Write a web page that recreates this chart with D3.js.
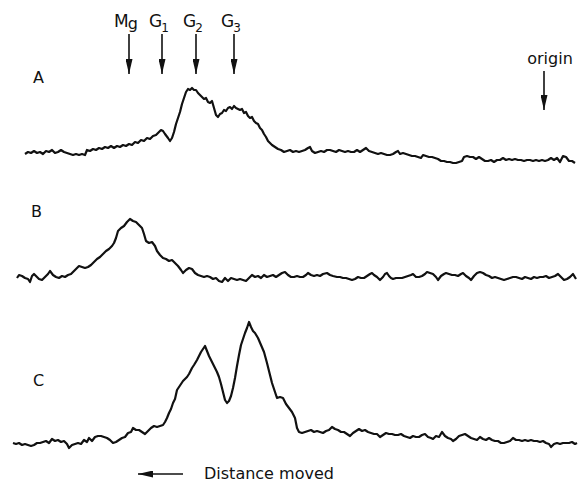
<!DOCTYPE html>
<html>
<head>
<meta charset="utf-8">
<script src="https://d3js.org/d3.v7.min.js"></script>
<style>
  body { margin: 0; background: #fff; }
  text { font-family: "DejaVu Sans", sans-serif; fill: #111; }
</style>
</head>
<body>
<div id="chart"></div>
<script>
// densitometer scans A, B, C - position along the gel vs. density

var w = 585, h = 483;

// band markers above the top scan
var markerNames = ["M", "G", "G", "G"];
var markerSubs = ["g", "1", "2", "3"];
var markerPos = [129, 162, 196, 234];
var originPos = 544;

var traceLabels = ["A", "B", "C"];

// scan A  [position, density]
var scanA = [
  [25,11],[28,13],[31,12],[34,14],[37,12],[40,13],[43,11],[46,14],[49,13],[52,15],[55,12],[58,13],
  [61,15],[64,13],[67,12],[70,11],[73,10],[76,11],[79,10],[82,11],[85,10],[87,15],[90,14],[93,16],
  [96,15],[99,17],[102,16],[105,18],[108,17],[111,19],[114,17],[117,19],[120,18],[123,20],[126,19],
  [129,21],[132,20],[135,23],[138,22],[141,25],[144,24],[147,27],[150,26],[153,29],[156,30],[159,33],
  [161,35],[163,34],[165,31],[168,27],[170,24],[172,27],[174,33],[176,41],[178,47],[180,53],[182,61],
  [184,67],[186,73],[188,76],[190,75],[192,77],[194,75],[196,75],[198,72],[200,70],[202,68],[204,66],
  [206,67],[208,63],[210,62],[212,64],[214,57],[216,50],[218,48],[220,51],[222,52],[224,55],[226,54],
  [228,57],[230,58],[232,56],[234,59],[236,57],[238,56],[240,55],[242,56],[244,52],[246,53],[248,49],
  [250,47],[252,48],[254,44],[256,42],[258,41],[260,37],[262,35],[264,31],[266,28],[268,24],[270,22],
  [272,20],[275,18],[278,16],[281,15],[284,13],[287,14],[290,15],[293,13],[296,14],[299,13],[302,14],
  [305,15],[308,17],[310,18],[312,14],[315,12],[318,13],[321,14],[324,13],[327,15],[330,15],[333,14],
  [336,13],[339,15],[342,14],[345,13],[348,14],[351,13],[354,13],[357,15],[360,13],[363,15],[366,17],
  [369,14],[372,13],[375,12],[378,11],[381,12],[384,11],[387,10],[390,10],[393,11],[396,13],[398,14],
  [400,11],[403,12],[406,11],[409,10],[412,9],[415,9],[418,8],[421,7],[423,10],[426,9],[429,8],[432,8],
  [435,7],[438,6],[441,4],[444,4],[447,3],[450,3],[453,2],[456,2],[459,3],[462,4],[464,8],[467,9],
  [470,8],[473,8],[476,6],[479,8],[482,6],[485,4],[488,4],[491,5],[494,3],[497,5],[500,5],[503,7],
  [506,5],[509,6],[512,5],[515,6],[518,5],[521,5],[524,4],[527,5],[530,5],[533,4],[536,5],[539,4],
  [542,5],[545,4],[548,5],[551,7],[554,5],[557,7],[560,3],[563,9],[566,8],[569,4],[572,4],[575,2]
];

// scan B
var scanB = [
  [17,12],[19,15],[22,14],[25,12],[28,11],[30,8],[32,14],[34,16],[36,14],[39,11],[42,10],[45,13],
  [48,16],[50,19],[53,15],[56,13],[59,12],[62,14],[65,13],[68,15],[71,16],[74,19],[77,22],[79,24],
  [82,23],[85,22],[88,23],[91,25],[94,28],[97,31],[100,33],[103,36],[106,39],[109,41],[112,44],
  [114,47],[116,52],[118,59],[121,62],[124,64],[127,68],[130,71],[133,69],[136,68],[139,65],[142,62],
  [144,56],[146,49],[149,47],[152,48],[155,44],[157,39],[160,35],[163,32],[166,31],[169,29],[172,30],
  [175,27],[178,24],[181,20],[183,17],[186,20],[189,22],[192,21],[195,17],[198,15],[201,14],[204,13],
  [207,14],[210,13],[213,11],[216,12],[219,9],[222,8],[225,12],[228,9],[231,12],[234,11],[237,10],
  [240,11],[243,10],[246,9],[249,12],[252,15],[255,13],[258,14],[261,12],[264,15],[267,13],[270,14],
  [273,15],[276,13],[279,15],[282,17],[285,18],[288,15],[291,13],[294,13],[297,14],[300,13],[303,13],
  [306,15],[308,17],[311,15],[314,14],[317,15],[320,14],[323,16],[327,17],[330,15],[333,14],[337,13],
  [340,13],[343,12],[346,12],[349,11],[352,10],[355,11],[358,13],[361,12],[364,12],[367,14],[370,16],
  [372,17],[374,15],[377,13],[380,10],[383,13],[385,16],[387,17],[389,14],[391,12],[393,11],[396,12],
  [399,12],[402,12],[405,13],[408,14],[411,15],[413,16],[416,13],[419,13],[422,14],[425,16],[427,18],
  [430,17],[433,16],[436,13],[438,10],[441,14],[444,16],[446,17],[449,16],[452,15],[455,15],[458,14],
  [461,16],[463,17],[466,14],[469,12],[471,10],[474,14],[477,17],[480,18],[483,17],[486,15],[489,14],
  [492,12],[495,13],[498,12],[501,11],[504,10],[507,11],[510,12],[513,13],[516,13],[519,12],[522,11],
  [525,13],[528,12],[531,11],[534,13],[537,12],[540,13],[543,13],[546,14],[549,12],[552,13],[555,14],
  [558,16],[561,13],[564,10],[567,11],[570,13],[573,16],[576,11]
];

// scan C
var scanC = [
  [13,7],[16,6],[19,7],[22,5],[25,6],[28,5],[31,4],[34,5],[37,7],[40,7],[43,8],[46,9],[49,7],[52,11],
  [55,9],[58,10],[61,8],[64,9],[67,6],[69,2],[72,5],[75,6],[78,7],[81,6],[84,10],[87,8],[89,12],
  [92,9],[95,13],[98,14],[101,14],[104,13],[107,12],[110,10],[113,7],[116,8],[119,10],[122,12],
  [125,13],[128,17],[131,18],[133,22],[136,20],[139,20],[142,18],[145,16],[148,19],[151,22],[154,24],
  [157,23],[160,24],[163,25],[165,28],[167,32],[169,37],[171,41],[173,47],[175,51],[177,60],[179,63],
  [181,66],[183,69],[185,71],[187,73],[189,76],[192,82],[194,85],[197,90],[199,94],[201,98],[203,101],
  [205,104],[207,99],[209,94],[211,90],[213,86],[215,82],[217,78],[219,73],[221,66],[223,58],[225,50],
  [227,47],[229,49],[231,54],[233,62],[235,72],[237,84],[239,95],[241,105],[243,111],[245,117],
  [247,122],[249,128],[251,123],[253,119],[255,117],[258,112],[261,105],[264,98],[267,87],[270,75],
  [272,67],[275,58],[277,52],[280,53],[283,52],[286,46],[289,42],[292,38],[295,32],[297,22],[299,18],
  [302,17],[305,18],[308,19],[311,20],
  [314,18],[317,19],[320,18],[323,17],[326,19],[329,20],[332,23],[335,21],[338,20],[341,18],[344,18],
  [347,16],[350,14],[353,17],[356,19],[359,21],[362,19],[365,20],[368,18],[371,17],[374,16],[377,16],
  [380,13],[383,15],[386,17],[389,16],[392,16],[395,15],[398,15],[401,16],[404,14],[407,13],[410,12],
  [413,14],[416,13],[419,13],[422,15],[425,16],[428,13],[431,12],[433,11],[436,14],[439,13],[442,18],
  [445,14],[448,12],[451,11],[453,9],[456,11],[459,14],[462,15],[465,16],[468,14],[471,12],[474,11],
  [477,10],[480,13],[483,11],[486,10],[489,12],[492,10],[495,9],[498,9],[501,7],[504,7],[507,8],
  [510,9],[513,12],[516,10],[519,10],[522,9],[525,10],[528,9],[531,10],[534,9],[537,9],[540,8],
  [543,9],[546,7],[549,6],[551,3],[554,6],[557,7],[560,6],[563,7],[566,7],[569,7],[572,8],[575,6],[577,7]
];

var scans = [scanA, scanB, scanC];
// zero-density line of each panel (pixels)
var panelBase = [165, 290, 450];

var svg = d3.select("#chart")
  .append("svg")
  .attr("width", w)
  .attr("height", h)
  .style("background", "#fff");

var x = d3.scaleLinear().domain([0, 585]).range([0, 585]);

function yFor(i) {
  return d3.scaleLinear().domain([0, 100]).range([panelBase[i], panelBase[i] - 100]);
}

// solid arrow head, long and narrow like the plotter ones
var defs = svg.append("defs");
defs.append("marker")
  .attr("id", "head")
  .attr("viewBox", "0 0 15 7")
  .attr("refX", 15).attr("refY", 3.5)
  .attr("markerWidth", 15).attr("markerHeight", 7)
  .attr("markerUnits", "userSpaceOnUse")
  .attr("orient", "auto")
  .append("path")
  .attr("d", "M0,0 L15,3.5 L0,7 Z")
  .attr("fill", "#111");

// the traces
scans.forEach(function (data, i) {
  var y = yFor(i);
  var line = d3.line()
    .x(function (d) { return x(d[0]); })
    .y(function (d) { return y(d[1]); });

  svg.append("path")
    .datum(data)
    .attr("d", line)
    .attr("fill", "none")
    .attr("stroke", "#111")
    .attr("stroke-width", 2.2)
    .attr("stroke-linejoin", "round");

  svg.append("text")
    .attr("x", x([33, 31, 33][i]))
    .attr("y", y([82, 73, 64][i]))
    .attr("font-size", 16)
    .text(traceLabels[i]);
});

// marker arrows (G bands)
markerPos.forEach(function (p, i) {
  var t = svg.append("text")
    .attr("x", x(p) - 3)
    .attr("y", 27)
    .attr("text-anchor", "middle")
    .attr("font-size", 17);
  t.append("tspan").text(markerNames[i]);
  t.append("tspan")
    .attr("font-size", i == 0 ? 16 : 12)
    .attr("dy", i == 0 ? 2 : 5)
    .attr("dx", -1)
    .text(markerSubs[i]);

  svg.append("line")
    .attr("x1", x(p)).attr("x2", x(p))
    .attr("y1", 34).attr("y2", 74)
    .attr("stroke", "#111")
    .attr("stroke-width", 1.6)
    .attr("marker-end", "url(#head)");
});

// origin
svg.append("text")
  .attr("x", x(originPos) + 6)
  .attr("y", 64)
  .attr("text-anchor", "middle")
  .attr("font-size", 16)
  .text("origin");

svg.append("line")
  .attr("x1", x(originPos)).attr("x2", x(originPos))
  .attr("y1", 71).attr("y2", 110)
  .attr("stroke", "#111")
  .attr("stroke-width", 1.6)
  .attr("marker-end", "url(#head)");

// direction of migration
svg.append("line")
  .attr("x1", x(183)).attr("x2", x(138))
  .attr("y1", 474).attr("y2", 474)
  .attr("stroke", "#111")
  .attr("stroke-width", 1.6)
  .attr("marker-end", "url(#head)");

svg.append("text")
  .attr("x", x(204))
  .attr("y", 479)
  .attr("font-size", 16)
  .text("Distance moved");
</script>
</body>
</html>
